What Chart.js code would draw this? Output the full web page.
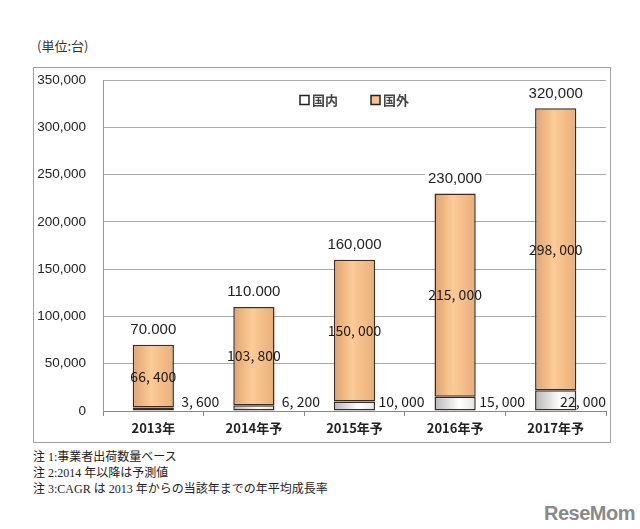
<!DOCTYPE html>
<html>
<head>
<meta charset="utf-8">
<script src="https://cdn.jsdelivr.net/npm/chart.js@4.4.1/dist/chart.umd.min.js"></script>
<style>
  body { margin: 0; width: 640px; height: 529px; background: #fff; position: relative; overflow: hidden; }
  .unit { position: absolute; left: 37px; top: 36px; font: 13px "Noto Sans CJK JP", sans-serif; color: #333; }
  .frame { position: absolute; left: 33px; top: 67px; width: 576px; height: 374px; border: 1px solid #a0a0a0; }
  .notes { position: absolute; left: 33px; top: 449px; font: 12px "Liberation Serif", "Noto Sans CJK JP", serif; color: #222; line-height: 16px; }
  .logo { position: absolute; left: 544px; top: 502px; font: bold 20px "Liberation Sans", sans-serif; color: #8a8a8a; letter-spacing: -0.5px; }
</style>
</head>
<body>
<div class="unit">(単位:台)</div>
<div class="frame"><canvas id="shipChart" width="576" height="374"></canvas></div>
<div class="notes">
  注 1:事業者出荷数量ベース<br>
  注 2:2014 年以降は予測値<br>
  注 3:CAGR は 2013 年からの当該年までの年平均成長率
</div>
<div class="logo">ReseMom</div>

<script>
// ---- data ----
const categories    = ['2013年', '2014年予', '2015年予', '2016年予', '2017年予'];
const domestic      = [3600, 6200, 10000, 15000, 22000];
const foreign       = [66400, 103800, 150000, 215000, 298000];
const totalLabels   = ['70.000', '110.000', '160,000', '230,000', '320,000'];
const seriesNames   = ['国内', '国外'];

const fmtGothic = v => v.toLocaleString('en-US').replace(',', ', ');

// horizontal gradient across each bar
function barGradient(stops, flat) {
  return context => {
    const chart = context.chart;
    if (!chart.chartArea || context.type !== 'data') return flat;
    const xs = chart.scales.x;
    const x  = xs.getPixelForValue(context.dataIndex);
    const w  = (xs.width / categories.length) * 0.41;
    const g  = chart.ctx.createLinearGradient(x - w / 2, 0, x + w / 2, 0);
    stops.forEach(s => g.addColorStop(s[0], s[1]));
    return g;
  };
}

const orangeFill = barGradient([[0, '#E0A46E'], [0.45, '#FCCB97'], [1, '#E9AE78']], '#F8C48E');
const whiteFill  = barGradient([[0, '#B8B8B8'], [0.6, '#FFFFFF'], [1, '#E4E4E4']], '#FFFFFF');
const legendFill = ['#FFFFFF', '#F6C38F'];

// value labels + legend drawn inside the plot
const barLabels = {
  id: 'barLabels',
  afterDatasetsDraw(chart) {
    const c = chart.ctx;
    const area = chart.chartArea;
    const mDom = chart.getDatasetMeta(0);
    const mFor = chart.getDatasetMeta(1);
    c.save();
    c.textAlign = 'center';
    c.textBaseline = 'middle';

    c.font = '14px "Noto Sans CJK JP"';
    c.fillStyle = '#1a1a1a';
    mFor.data.forEach((bar, i) => {
      c.fillText(fmtGothic(foreign[i]), bar.x, (bar.y + bar.base) / 2);
    });
    mDom.data.forEach((bar, i) => {
      const t = fmtGothic(domestic[i]);
      const w = c.measureText(t).width;
      let x = bar.x + 47;
      if (x + w / 2 > area.right) x = area.right - w / 2;
      c.fillText(t, x, area.bottom - 9);
    });

    c.font = '15px "Liberation Sans"';
    mFor.data.forEach((bar, i) => {
      const t = totalLabels[i];
      const w = c.measureText(t).width;
      const y = bar.y - 15;
      c.fillStyle = '#fff';
      c.fillRect(bar.x - w / 2 - 3, y - 9, w + 6, 18);
      c.fillStyle = '#222';
      c.fillText(t, bar.x, y);
    });

    // legend
    c.font = 'bold 13px "Noto Sans CJK JP"';
    c.textAlign = 'left';
    const box = 9, gapText = 3, gapItem = 33;
    const widths = seriesNames.map(n => box + gapText + c.measureText(n).width);
    const total = widths.reduce((a, b) => a + b, 0) + gapItem * (seriesNames.length - 1);
    let lx = (area.left + area.right) / 2 - total / 2;
    const ly = area.top + 20;
    seriesNames.forEach((n, i) => {
      c.fillStyle = legendFill[i];
      c.fillRect(lx, ly - box / 2, box, box);
      c.strokeStyle = '#222';
      c.lineWidth = 1.5;
      c.strokeRect(lx, ly - box / 2, box, box);
      c.fillStyle = '#444';
      c.fillText(n, lx + box + gapText, ly);
      lx += widths[i] + gapItem;
    });
    c.restore();
  }
};

new Chart(document.getElementById('shipChart'), {
  type: 'bar',
  data: {
    labels: categories,
    datasets: [
      { label: seriesNames[0], data: domestic, backgroundColor: whiteFill,  borderColor: '#3a2c22', borderWidth: 1.5, borderSkipped: false },
      { label: seriesNames[1], data: foreign,  backgroundColor: orangeFill, borderColor: '#3a2c22', borderWidth: 1.5, borderSkipped: false }
    ]
  },
  options: {
    responsive: false,
    animation: false,
    datasets: { bar: { categoryPercentage: 1, barPercentage: 0.41 } },
    layout: { padding: { top: 12, right: 4 } },
    plugins: {
      tooltip: { enabled: false },
      legend: { display: false }
    },
    scales: {
      x: {
        stacked: true,
        grid: { display: true, drawOnChartArea: false, drawTicks: true, tickLength: 5, color: '#888' },
        border: { color: '#888' },
        ticks: { color: '#222', padding: 4, font: { family: '"Noto Sans CJK JP"', size: 13, weight: 'bold' } },
        afterFit: s => { s.height = 31; }
      },
      y: {
        stacked: true,
        min: 0, max: 350000,
        grid: { color: '#a8a8a8', drawTicks: true, tickLength: 17, tickColor: 'rgba(0,0,0,0)' },
        border: { color: '#999' },
        ticks: {
          stepSize: 50000, padding: 0, color: '#222',
          font: { family: '"Liberation Sans"', size: 13.5 },
          callback: v => v.toLocaleString('en-US')
        },
        afterFit: s => { s.width = 69; }
      }
    }
  },
  plugins: [barLabels]
});
</script>
</body>
</html>
